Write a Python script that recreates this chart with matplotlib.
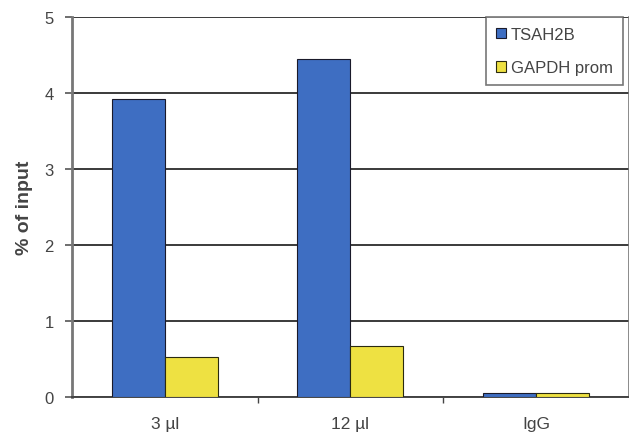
import matplotlib
matplotlib.use("Agg")
import matplotlib.pyplot as plt
import numpy as np

categories = ["3 µl", "12 µl", "IgG"]
series_names = ["TSAH2B", "GAPDH prom"]
tsah2b = [3.92, 4.45, 0.05]
gapdh = [0.53, 0.67, 0.05]
yticks = [0, 1, 2, 3, 4, 5]

plt.rcParams['font.family'] = ['Liberation Sans', 'DejaVu Sans']

fig = plt.figure(figsize=(6.29, 4.39), dpi=100)
ax = fig.add_axes([0.1145, 0.0934, 0.885, 0.8656])

x = np.arange(len(categories))
w = 0.2857
ax.bar(x - w / 2, tsah2b, w, color="#3E6EC2", edgecolor="#1a1a2a", linewidth=0.8,
       label=series_names[0], zorder=3)
ax.bar(x + w / 2, gapdh, w, color="#EEE142", edgecolor="#2a2a10", linewidth=0.8,
       label=series_names[1], zorder=3)

ax.set_xlim(-0.5, len(categories) - 0.5)
ax.set_ylim(0, 5)
ax.set_yticks(yticks)
ax.set_yticklabels([str(v) for v in yticks], fontsize=12, color="#444444")
ax.set_xticks(x)
ax.set_xticklabels(categories, fontsize=12.5, color="#444444")
ax.tick_params(axis='x', length=0, pad=14)
ax.set_xticks(np.arange(0.5, len(categories) - 0.5, 1.0), minor=True)
ax.tick_params(axis='x', which='minor', length=4, width=1, color="#444444", direction='out')
ax.tick_params(axis='y', length=5, width=1.2, color="#555555", direction='out', pad=8)

ax.yaxis.grid(True, color="#3a3a3a", linewidth=1.4, zorder=1)
ax.set_axisbelow(True)

ax.spines['top'].set_visible(False)
ax.spines['right'].set_color("#777777")
ax.spines['right'].set_linewidth(1.2)
ax.spines['left'].set_color("#777777")
ax.spines['left'].set_linewidth(2)
ax.spines['bottom'].set_color("#444444")
ax.spines['bottom'].set_linewidth(1.4)

ax.set_ylabel("% of input", fontsize=14, fontweight='bold', color="#444444", labelpad=8)

leg = ax.legend(loc='upper right', bbox_to_anchor=(0.99, 1.0), fontsize=12,
                frameon=True, fancybox=False, edgecolor="#555555",
                handlelength=0.6, handleheight=0.6, handletextpad=0.3,
                borderpad=0.6, labelspacing=1.1, borderaxespad=0.0)
leg.get_frame().set_linewidth(1.2)
for t in leg.get_texts():
    t.set_color("#444444")

fig.savefig("out.png", dpi=100)
